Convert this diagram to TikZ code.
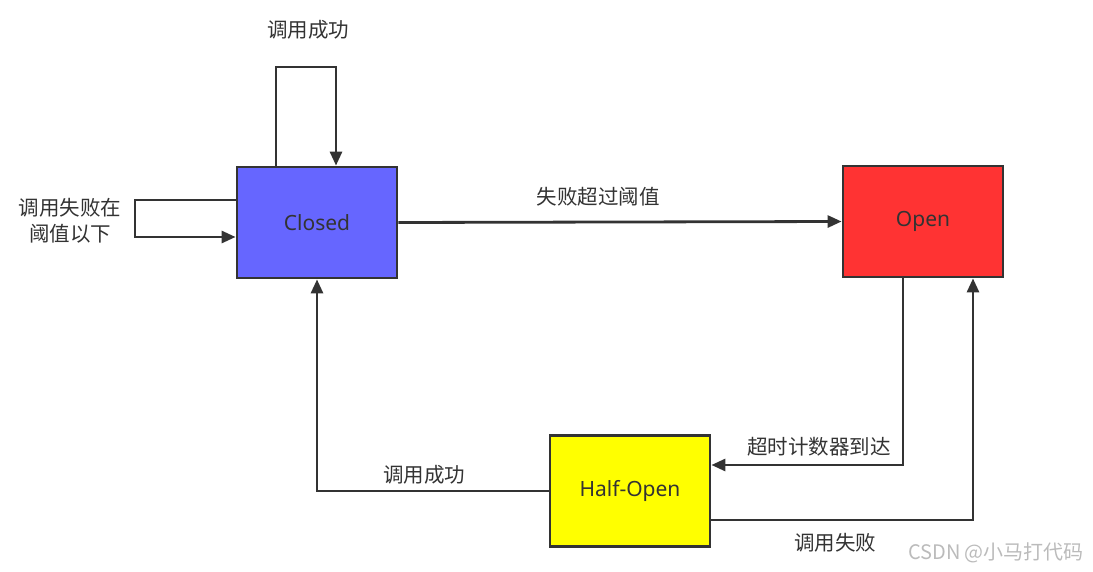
\documentclass[tikz,border=0pt]{standalone}
\usepackage{fontspec}
\setmainfont{Noto Sans CJK SC}
\newfontfamily\latinf{Noto Sans}
\usetikzlibrary{arrows.meta}
\definecolor{ln}{HTML}{333333}
\definecolor{cblue}{HTML}{6666FF}
\definecolor{cred}{HTML}{FF3333}
\definecolor{cyel}{HTML}{FFFF00}
\definecolor{wm}{HTML}{BBBBBB}
\begin{document}
\begin{tikzpicture}[x=1pt,y=-1pt,
  state/.style={draw=ln,line width=2.8pt,minimum width=160pt,minimum height=111pt,inner sep=0pt,font=\latinf\fontsize{21}{24}\selectfont,text=ln},
  conn/.style={draw=ln,line width=2.8pt,-{Triangle[length=14pt,width=12pt]}},
  lbl/.style={font=\fontsize{20.5}{26}\selectfont,text=ln,inner sep=0pt,align=center}]
\useasboundingbox (0,0) rectangle (1093,572);
\node[state,fill=cblue] (closed) at (317,222.5) {Closed};
\node[state,fill=cred] (open) at (923,221.5) {Open};
\node[state,fill=cyel] (half) at (630,491) {Half-Open};
% Closed top self loop
\coordinate (t1) at (276,67);
\coordinate (t2) at (336,67);
\draw[conn] (closed.north -| t1) -- (t1) -- (t2) -- (closed.north -| t2);
\node[lbl] (ltop) at (308,30) {调用成功};
% Closed left self loop
\coordinate (l1) at (135,200);
\coordinate (l2) at (135,237);
\draw[conn] (closed.west |- l1) -- (l1) -- (l2) -- (closed.west |- l2);
\node[lbl] (lleft) at (70,221) {调用失败在\\阈值以下};
% Closed -> Open
\draw[conn] (closed.east) -- (open.west);
\node[lbl] (lco) at (598,197) {失败超过阈值};
% Open -> Half-Open
\coordinate (o1) at (903,465);
\draw[conn] (open.south -| o1) -- (o1) -- (half.east |- o1);
\node[lbl] (loh) at (819,447) {超时计数器到达};
% Half-Open -> Open
\coordinate (h1) at (973,520);
\draw[conn] (half.east |- h1) -- (h1) -- (open.south -| h1);
\node[lbl] (lho) at (835,543) {调用失败};
% Half-Open -> Closed
\coordinate (c1) at (317,491);
\draw[conn] (half.west) -- (c1) -- (closed.south);
\node[lbl] (lhc) at (424,475) {调用成功};
% watermark
\node[font=\fontsize{20}{22}\selectfont,text=wm,inner sep=0pt] (wmk) at (996,553) {CSDN @小马打代码};
\end{tikzpicture}
\end{document}
